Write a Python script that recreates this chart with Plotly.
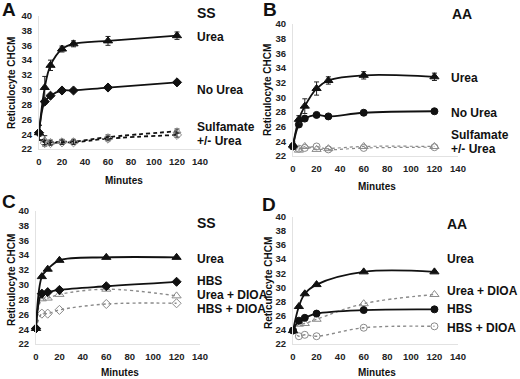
import plotly.graph_objects as go

minutes7 = [0, 5, 10, 20, 30, 60, 120]
minutes6 = [0, 5, 10, 20, 60, 120]

# Panel A (SS)
a_urea = [24.2, 30.3, 33.3, 35.5, 36.2, 36.6, 37.3]
a_urea_err = [1.0, 1.5, 0.7, 0.4, 0.4, 0.6, 0.5]
a_nourea = [24.2, 28.4, 29.2, 29.9, 29.9, 30.3, 31.0]
a_nourea_err = [1.0, 0.3, 0.2, 0.2, 0.2, 0.2, 0.2]
a_sulf_urea = [24.2, 23.2, 22.9, 23.0, 23.0, 23.6, 24.4]
a_sulf_urea_err = [1.0, 0.6, 0.3, 0.3, 0.3, 0.3, 0.3]
a_sulf = [24.2, 22.8, 22.8, 22.9, 22.9, 23.4, 23.9]
a_sulf_err = [1.0, 0.4, 0.3, 0.3, 0.3, 0.3, 0.3]

# Panel B (AA)
b_urea = [23.5, 27.0, 28.8, 31.2, 32.3, 33.0, 32.8]
b_urea_err = [0.4, 0.5, 1.0, 0.9, 0.5, 0.5, 0.5]
b_nourea = [23.3, 26.3, 27.1, 27.6, 27.4, 27.9, 28.1]
b_nourea_err = [0.3, 0.3, 0.2, 0.2, 0.2, 0.2, 0.2]
b_sulf_urea = [23.4, 22.8, 23.3, 22.9, 23.0, 23.3, 23.3]
b_sulf = [23.3, 23.0, 23.1, 23.3, 22.9, 23.1, 23.2]

# Panel C (SS)
c_urea = [24.1, 31.1, 32.1, 33.3, 33.7, 33.7]
c_hbs = [24.1, 28.8, 29.0, 29.3, 29.8, 30.4]
c_urea_dioa = [24.1, 28.1, 28.2, 28.7, 29.4, 28.5]
c_hbs_dioa = [24.1, 26.1, 26.1, 26.6, 27.4, 27.5]

# Panel D (AA)
d_urea = [23.9, 27.3, 29.1, 30.4, 32.2, 32.2]
d_hbs = [23.9, 25.3, 25.7, 26.3, 26.8, 26.9]
d_urea_dioa = [23.9, 24.8, 24.9, 25.5, 27.7, 29.0]
d_hbs_dioa = [23.9, 23.1, 23.3, 23.1, 24.3, 24.5]

x_ticks = [0, 20, 40, 60, 80, 100, 120, 140]
y_ticks = [22, 24, 26, 28, 30, 32, 34, 36, 38, 40]

FONT = "Liberation Sans"
GRAY = "#8a8a8a"

fig = go.Figure()


def add(ax, x, y, symbol, color, dash="solid", lw=1.8, size=7, err=None, lcolor=None):
    xa = "x" if ax == 1 else "x%d" % ax
    ya = "y" if ax == 1 else "y%d" % ax
    kw = {}
    if err is not None:
        kw["error_y"] = dict(type="data", array=err, visible=True, color="#222",
                             thickness=1, width=2.5)
    fig.add_trace(go.Scatter(
        x=x, y=y, xaxis=xa, yaxis=ya, mode="lines+markers",
        line=dict(color=lcolor or color, width=lw, dash=dash, shape="spline", smoothing=1),
        marker=dict(symbol=symbol, size=size, color=color,
                    line=dict(color=color, width=1)),
        cliponaxis=False, showlegend=False, **kw))


# A
add(1, minutes7, a_sulf_urea, "triangle-up-open", GRAY, dash="4px,3px", lw=1.8,
    err=a_sulf_urea_err, lcolor="#111")
add(1, minutes7, a_sulf, "diamond-open", GRAY, dash="4px,3px", lw=1.8,
    err=a_sulf_err, lcolor="#111")
add(1, minutes7, a_nourea, "diamond", "#111", err=a_nourea_err)
add(1, minutes7, a_urea, "triangle-up", "#111", size=8, err=a_urea_err)
# B
add(2, minutes7, b_sulf_urea, "triangle-up-open", GRAY, dash="dot", lw=1.2, size=8)
add(2, minutes7, b_sulf, "circle-open", GRAY, dash="dot", lw=1.2)
add(2, minutes7, b_nourea, "circle", "#111", err=b_nourea_err)
add(2, minutes7, b_urea, "triangle-up", "#111", size=8, err=b_urea_err)
# C
add(3, minutes6, c_hbs_dioa, "diamond-open", GRAY, dash="dot", lw=1.4)
add(3, minutes6, c_urea_dioa, "triangle-up-open", GRAY, dash="dot", lw=1.4, size=8)
add(3, minutes6, c_hbs, "diamond", "#111")
add(3, minutes6, c_urea, "triangle-up", "#111", size=8)
# D
add(4, minutes6, d_hbs_dioa, "circle-open", GRAY, dash="dot", lw=1.4)
add(4, minutes6, d_urea_dioa, "triangle-up-open", GRAY, dash="dot", lw=1.4, size=8)
add(4, minutes6, d_hbs, "circle", "#111")
add(4, minutes6, d_urea, "triangle-up", "#111", size=8)

W, H = 520, 379
# plot-area pixel boxes: (x0, x1, ytop, ybottom)
boxes = {
    1: (39, 200, 15.7, 149),
    2: (293, 458, 24, 156),
    3: (36, 200, 210.7, 344),
    4: (293, 458, 216.7, 344),
}

tickfont = dict(family=FONT, size=9.5, color="#222")
layout = {}
for i, (x0, x1, yt, yb) in boxes.items():
    sx = "" if i == 1 else str(i)
    layout["xaxis" + sx] = dict(
        domain=[x0 / W, x1 / W], anchor="y" + sx, range=[0, 140],
        tickvals=x_ticks, ticktext=["<b>%d</b>" % v for v in x_ticks],
        showgrid=False, zeroline=False, showline=True, linecolor="#e2e2e2",
        linewidth=1, automargin=False,
        ticks="", tickfont=tickfont, ticklabelstandoff=4, fixedrange=True)
    layout["yaxis" + sx] = dict(
        domain=[1 - yb / H, 1 - yt / H], anchor="x" + sx, range=[22, 40],
        tickvals=y_ticks, ticktext=["<b>%d</b>" % v for v in y_ticks],
        showgrid=False, zeroline=False, showline=True, linecolor="#e2e2e2",
        linewidth=1, automargin=False,
        ticks="", tickfont=tickfont, ticklabelstandoff=4, fixedrange=True)

ann = []


def txt(x, y, s, size=12, xanchor="left", angle=0):
    ann.append(dict(x=x / W, y=1 - y / H, xref="paper", yref="paper", text="<b>%s</b>" % s,
                    showarrow=False, xanchor=xanchor, yanchor="middle", textangle=angle,
                    font=dict(family=FONT, size=size, color="#111")))


# panel letters
txt(0, 9, "A", size=19)
txt(261, 9, "B", size=19)
txt(0, 201, "C", size=19)
txt(260, 204, "D", size=19)
# group labels
txt(195, 13, "SS", size=14)
txt(450, 14, "AA", size=14)
txt(195, 223, "SS", size=14)
txt(445, 224, "AA", size=14)
# series labels
txt(195, 37, "Urea")
txt(195, 90, "No Urea")
txt(195, 127, "Sulfamate")
txt(195, 141, "+/- Urea")
txt(449, 78, "Urea")
txt(449, 113, "No Urea")
txt(449, 135, "Sulfamate")
txt(449, 149, "+/- Urea")
txt(195, 259, "Urea")
txt(195, 281, "HBS")
txt(195, 295, "Urea + DIOA")
txt(195, 309, "HBS + DIOA")
txt(445, 259, "Urea")
txt(445, 291, "Urea + DIOA")
txt(445, 309, "HBS")
txt(445, 328, "HBS + DIOA")
# axis titles
for cx, cy in [(12, 83), (267, 90), (11, 280), (268, 283)]:
    txt(cx, cy, "Reticulocyte CHCM", size=10, xanchor="center", angle=-90)
for cx, cy in [(124, 180), (377, 186), (120, 372), (377, 372)]:
    txt(cx, cy, "Minutes", size=10, xanchor="center")

fig.update_layout(
    width=W, height=H, margin=dict(l=0, r=0, t=0, b=0),
    paper_bgcolor="white", plot_bgcolor="white", showlegend=False,
    annotations=ann, **layout)

fig.write_html(
    "out.html",
    config={"displayModeBar": False},
    post_script="document.body.style.margin='0';document.body.style.overflow='hidden';",
)
